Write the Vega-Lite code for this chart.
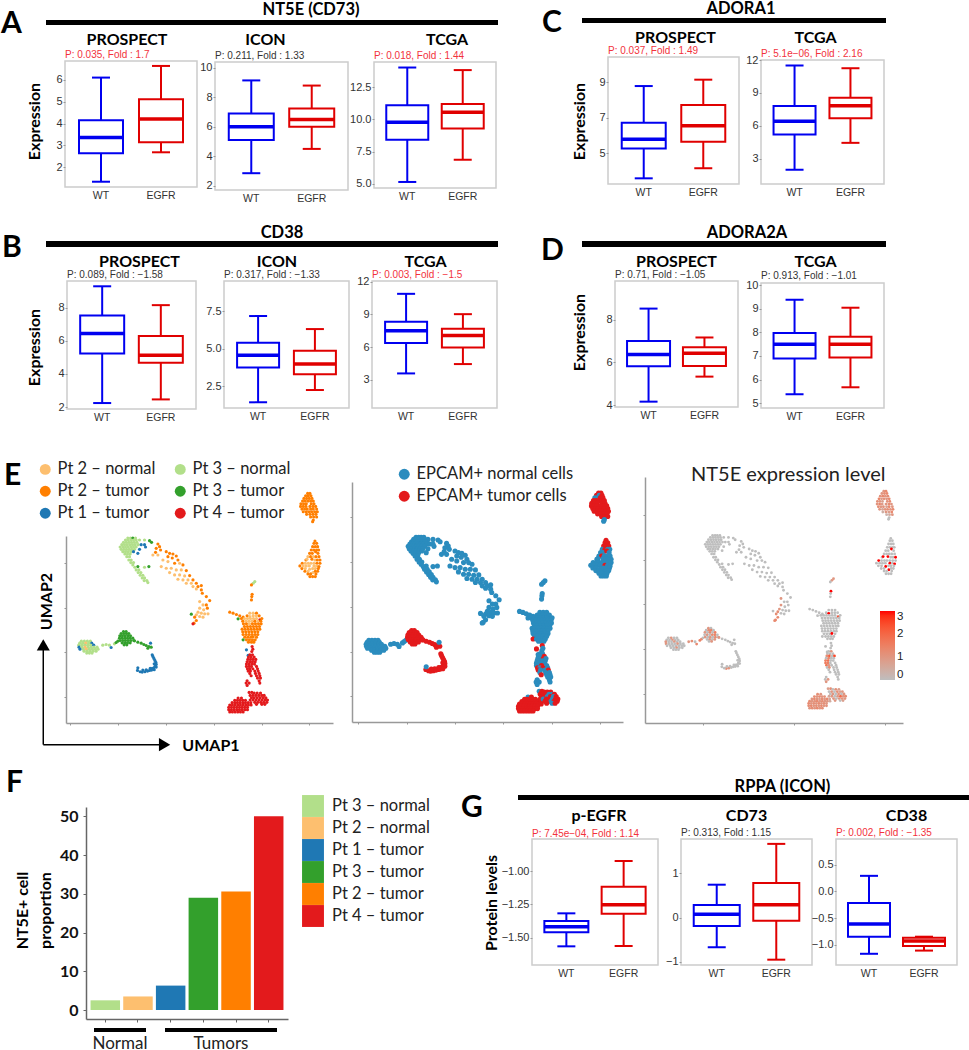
{"$schema":"https://vega.github.io/schema/vega-lite/v6.json","autosize":"none","padding":{"left":0,"top":0,"right":969,"bottom":1050},"background":"#fff","spacing":0,"bounds":"flush",
"data":{"values":[]},
"datasets":{"cells":[
{"x":92.3,"y":72,"p":"P2t","e":"T","v":1},{"x":93,"y":72,"p":"P2t","e":"T","v":1.3},{"x":91.7,"y":71.3,"p":"P2t","e":"T","v":1},{"x":92.5,"y":71.3,"p":"P2t","e":"N","v":1.2},{"x":93.3,"y":71.3,"p":"P2t","e":"T","v":1.3},{"x":91.2,"y":70.5,"p":"P2t","e":"N","v":1.1},{"x":92,"y":70.5,"p":"P2t","e":"N","v":1.3},{"x":92.8,"y":70.5,"p":"P2t","e":"T","v":1},{"x":93.6,"y":70.5,"p":"P2t","e":"T","v":1.2},{"x":90.8,"y":69.7,"p":"P2t","e":"T","v":1.4},{"x":91.6,"y":69.7,"p":"P2t","e":"T","v":0.9},{"x":92.4,"y":69.7,"p":"P2t","e":"T","v":1.1},{"x":93.2,"y":69.7,"p":"P2t","e":"T","v":1},{"x":94,"y":69.7,"p":"P2t","e":"T","v":1.3},{"x":90.3,"y":68.9,"p":"P2t","e":"T","v":1.2},{"x":91.1,"y":68.9,"p":"P2t","e":"T","v":1},{"x":91.9,"y":68.9,"p":"P2t","e":"T","v":0.8},{"x":93.4,"y":68.9,"p":"P2t","e":"T","v":1.1},{"x":94.2,"y":68.9,"p":"P2t","e":"T","v":1.3},{"x":90.2,"y":68.1,"p":"P2t","e":"T","v":1},{"x":91,"y":68.1,"p":"P2t","e":"T","v":1.4},{"x":91.8,"y":68.1,"p":"P2t","e":"T","v":0.9},{"x":93,"y":68.1,"p":"P2t","e":"T","v":1},{"x":93.9,"y":68.1,"p":"P2t","e":"T","v":1.2},{"x":94.7,"y":68.1,"p":"P2t","e":"T","v":1},{"x":90.6,"y":67.3,"p":"P2t","e":"T","v":1.2},{"x":91.4,"y":67.3,"p":"P2t","e":"T","v":1},{"x":92.2,"y":67.3,"p":"P2t","e":"T","v":1.1},{"x":93.2,"y":67.3,"p":"P2t","e":"T","v":0.7},{"x":94,"y":67.3,"p":"P2t","e":"T","v":1.3},{"x":95,"y":67.3,"p":"P2t","e":"T","v":1},{"x":91,"y":66.5,"p":"P2t","e":"T","v":1},{"x":91.9,"y":66.5,"p":"P2t","e":"T","v":0.6},{"x":92.7,"y":66.5,"p":"P2t","e":"T","v":1.1},{"x":93.5,"y":66.5,"p":"P2t","e":"T","v":1.2},{"x":94.4,"y":66.5,"p":"P2t","e":"T","v":1},{"x":95.2,"y":66.5,"p":"P2t","e":"T","v":1.3},{"x":92,"y":65.7,"p":"P2t","e":"T","v":0.4},{"x":93,"y":65.7,"p":"P2t","e":"T","v":1},{"x":93.9,"y":65.7,"p":"P2t","e":"T","v":0.8},{"x":94.8,"y":65.7,"p":"P2t","e":"T","v":1.3},{"x":93.2,"y":64.9,"p":"P2t","e":"T","v":0.3},{"x":94.1,"y":64.9,"p":"P2t","e":"T","v":0.5},{"x":95,"y":64.9,"p":"P2t","e":"T","v":1},{"x":94,"y":64,"p":"P2t","e":"N","v":0},{"x":93.8,"y":63.5,"p":"P2t","e":"N","v":0},
{"x":94.5,"y":57.7,"p":"P2t","e":"T","v":0},{"x":94.2,"y":57,"p":"P2t","e":"T","v":0},{"x":95,"y":57,"p":"P2t","e":"T","v":0},{"x":93.8,"y":56,"p":"P2t","e":"T","v":0},{"x":94.6,"y":56,"p":"P2t","e":"T","v":0},{"x":95.3,"y":56,"p":"P2t","e":"T","v":0},{"x":93.4,"y":55,"p":"P2t","e":"N","v":0},{"x":94.2,"y":55,"p":"P2t","e":"T","v":0},{"x":95,"y":55,"p":"P2t","e":"N","v":0},{"x":95.6,"y":55,"p":"P2t","e":"N","v":0},{"x":92.9,"y":54,"p":"P2t","e":"N","v":0},{"x":93.7,"y":54,"p":"P2t","e":"N","v":0},{"x":94.7,"y":54.5,"p":"P2t","e":"T","v":3},{"x":95.4,"y":54,"p":"P2t","e":"N","v":0},{"x":92.4,"y":53,"p":"P2n","e":"N","v":0},{"x":93.2,"y":53,"p":"P2t","e":"T","v":0},{"x":94,"y":53,"p":"P2n","e":"N","v":0},{"x":94.8,"y":53,"p":"P2t","e":"N","v":0},{"x":95.7,"y":53,"p":"P2t","e":"N","v":0},{"x":91.8,"y":52,"p":"P2t","e":"N","v":0},{"x":92.1,"y":52.2,"p":"P2n","e":"N","v":3},{"x":93.6,"y":52.2,"p":"P2t","e":"N","v":3},{"x":94.5,"y":52,"p":"P2n","e":"N","v":0},{"x":95.2,"y":52,"p":"P2t","e":"N","v":0},{"x":96,"y":52,"p":"P2t","e":"N","v":3},{"x":90.7,"y":51,"p":"P2t","e":"N","v":3},{"x":91.6,"y":51,"p":"P2n","e":"N","v":0},{"x":92.5,"y":51,"p":"P2n","e":"N","v":0},{"x":93.3,"y":51,"p":"P2n","e":"N","v":0},{"x":94.2,"y":51,"p":"P2n","e":"N","v":0},{"x":95.1,"y":51,"p":"P2t","e":"N","v":0},{"x":96,"y":51,"p":"P2t","e":"N","v":0},{"x":90,"y":50.2,"p":"P2t","e":"N","v":0},{"x":91,"y":50.2,"p":"P2n","e":"N","v":0},{"x":91.9,"y":50.2,"p":"P2n","e":"N","v":0},{"x":92.8,"y":50.2,"p":"P2n","e":"N","v":0},{"x":94.2,"y":50.2,"p":"P2n","e":"T","v":3},{"x":95,"y":50.2,"p":"P2n","e":"N","v":0},{"x":95.7,"y":50,"p":"P2t","e":"N","v":3},{"x":90.6,"y":49.4,"p":"P2t","e":"N","v":0},{"x":91.6,"y":49.4,"p":"P2n","e":"N","v":0},{"x":92.9,"y":49.2,"p":"P2n","e":"N","v":3},{"x":93.8,"y":49.4,"p":"P2n","e":"N","v":0},{"x":94.6,"y":49.4,"p":"P2n","e":"N","v":0},{"x":95.5,"y":49.4,"p":"P2t","e":"N","v":0},{"x":91.5,"y":48.6,"p":"P2t","e":"N","v":0},{"x":92.4,"y":48.6,"p":"P2n","e":"N","v":0},{"x":93.9,"y":48.2,"p":"P2n","e":"N","v":3},{"x":94.6,"y":48.6,"p":"P2t","e":"N","v":0},{"x":95.3,"y":48.6,"p":"P2t","e":"N","v":0},{"x":92.4,"y":47.8,"p":"P2t","e":"N","v":0},{"x":93.2,"y":47.8,"p":"P2t","e":"N","v":0},{"x":94.8,"y":47.8,"p":"P2t","e":"N","v":0},{"x":93,"y":47,"p":"P2t","e":"N","v":0},{"x":93.8,"y":47,"p":"P2t","e":"N","v":0},{"x":94.6,"y":47,"p":"P2t","e":"N","v":0},
{"x":38.5,"y":58.6,"p":"P3n","e":"N","v":0},{"x":39.3,"y":58.6,"p":"P3n","e":"N","v":0},{"x":40,"y":58.6,"p":"P3t","e":"N","v":0},{"x":40.8,"y":58.6,"p":"P3n","e":"N","v":0},{"x":37.8,"y":58,"p":"P3n","e":"N","v":0},{"x":38.6,"y":58,"p":"P3n","e":"N","v":0},{"x":39.4,"y":58,"p":"P3n","e":"N","v":0},{"x":40.2,"y":58,"p":"P3n","e":"N","v":0},{"x":41,"y":58,"p":"P3n","e":"N","v":0},{"x":42,"y":58,"p":"P3n","e":"N","v":0},{"x":43.5,"y":58,"p":"P3n","e":"N","v":0},{"x":45,"y":57.8,"p":"P3t","e":"N","v":0},{"x":37.2,"y":57.3,"p":"P3n","e":"N","v":0},{"x":38,"y":57.3,"p":"P3n","e":"N","v":0},{"x":38.8,"y":57.3,"p":"P3n","e":"N","v":0},{"x":39.6,"y":57.3,"p":"P3n","e":"N","v":0},{"x":40.4,"y":57.3,"p":"P3n","e":"N","v":0},{"x":41.2,"y":57.3,"p":"P3n","e":"N","v":0},{"x":45.6,"y":57.3,"p":"P3t","e":"N","v":0},{"x":36.7,"y":56.6,"p":"P3n","e":"N","v":0},{"x":37.5,"y":56.6,"p":"P3n","e":"N","v":0},{"x":38.3,"y":56.6,"p":"P3n","e":"N","v":0},{"x":39.1,"y":56.6,"p":"P3n","e":"N","v":0},{"x":39.9,"y":56.6,"p":"P3n","e":"N","v":0},{"x":40.7,"y":56.6,"p":"P3n","e":"N","v":0},{"x":41.6,"y":56.6,"p":"P3n","e":"N","v":0},{"x":42.5,"y":56.6,"p":"P1t","e":"N","v":0},{"x":43.5,"y":56.6,"p":"P1t","e":"N","v":0},{"x":36.2,"y":55.9,"p":"P3n","e":"N","v":0},{"x":37,"y":55.9,"p":"P3n","e":"N","v":0},{"x":37.8,"y":55.9,"p":"P3n","e":"N","v":0},{"x":38.6,"y":55.9,"p":"P3n","e":"N","v":0},{"x":39.4,"y":55.9,"p":"P3n","e":"N","v":0},{"x":40.2,"y":55.9,"p":"P3n","e":"N","v":0},{"x":41,"y":55.9,"p":"P3n","e":"N","v":0},{"x":43.8,"y":55.9,"p":"P1t","e":"N","v":0},{"x":36.5,"y":55.2,"p":"P3n","e":"N","v":0},{"x":37.3,"y":55.2,"p":"P3n","e":"N","v":0},{"x":38.1,"y":55.2,"p":"P3n","e":"N","v":0},{"x":38.9,"y":55.2,"p":"P3n","e":"N","v":0},{"x":39.7,"y":55.2,"p":"P3n","e":"N","v":0},{"x":40.5,"y":55.2,"p":"P3n","e":"N","v":0},{"x":42,"y":55.2,"p":"P1t","e":"N","v":0},{"x":37,"y":54.5,"p":"P3n","e":"N","v":0},{"x":37.8,"y":54.5,"p":"P3n","e":"N","v":0},{"x":38.6,"y":54.5,"p":"P3n","e":"N","v":0},{"x":39.4,"y":54.5,"p":"P3n","e":"N","v":0},{"x":40.2,"y":54.5,"p":"P1t","e":"N","v":0},{"x":41.5,"y":54,"p":"P1t","e":"N","v":0},{"x":37.6,"y":53.8,"p":"P3n","e":"N","v":0},{"x":38.4,"y":53.8,"p":"P3n","e":"N","v":0},{"x":39.2,"y":53.8,"p":"P3n","e":"N","v":0},{"x":38.2,"y":53,"p":"P3n","e":"N","v":0},{"x":39,"y":53,"p":"P3n","e":"N","v":0},{"x":38.8,"y":52,"p":"P3n","e":"N","v":0},{"x":39.5,"y":52,"p":"P3n","e":"N","v":0},{"x":39.4,"y":51.2,"p":"P3n","e":"N","v":0},{"x":40.2,"y":51.2,"p":"P3n","e":"N","v":0},{"x":40,"y":50.5,"p":"P3n","e":"N","v":0},{"x":41.5,"y":50,"p":"P3t","e":"N","v":0},{"x":44.8,"y":50,"p":"P3t","e":"N","v":0},{"x":40.6,"y":49.8,"p":"P3n","e":"N","v":0},{"x":43.5,"y":49.8,"p":"P3n","e":"N","v":0},{"x":41,"y":49,"p":"P3n","e":"N","v":0},{"x":41.8,"y":49,"p":"P3n","e":"N","v":0},{"x":41.6,"y":48.2,"p":"P3n","e":"N","v":0},{"x":42.4,"y":48.2,"p":"P3n","e":"N","v":0},{"x":42.2,"y":47.4,"p":"P3n","e":"N","v":0},{"x":43,"y":47.4,"p":"P3n","e":"N","v":0},{"x":42.8,"y":46.6,"p":"P3n","e":"N","v":0},{"x":43.5,"y":46.6,"p":"P3n","e":"N","v":0},{"x":43.4,"y":45.8,"p":"P3n","e":"N","v":0},{"x":44.2,"y":45.8,"p":"P3n","e":"N","v":0},{"x":44.5,"y":45.2,"p":"P3n","e":"N","v":0},
{"x":47.5,"y":56.8,"p":"P2t","e":"N","v":0},{"x":48,"y":56,"p":"P2t","e":"N","v":0},{"x":47,"y":55.5,"p":"P2t","e":"N","v":0},{"x":48.3,"y":55,"p":"P2t","e":"N","v":0},{"x":46.8,"y":54.3,"p":"P2t","e":"N","v":0},{"x":46,"y":53.5,"p":"P2n","e":"N","v":0},{"x":47.5,"y":53.5,"p":"P2n","e":"N","v":0},{"x":50,"y":54.5,"p":"P2t","e":"N","v":0},{"x":51,"y":54,"p":"P2t","e":"N","v":0},{"x":52,"y":53.8,"p":"P2t","e":"N","v":0},{"x":53,"y":53.2,"p":"P2t","e":"N","v":0},{"x":50.5,"y":53,"p":"P2t","e":"N","v":0},{"x":51.8,"y":52.6,"p":"P2t","e":"N","v":0},{"x":53.5,"y":52,"p":"P2t","e":"N","v":0},{"x":49,"y":52,"p":"P2n","e":"N","v":0},{"x":50.5,"y":51.5,"p":"P2n","e":"N","v":0},{"x":52.5,"y":51,"p":"P2t","e":"N","v":0},{"x":54,"y":51,"p":"P2n","e":"N","v":0},{"x":55,"y":50.5,"p":"P2t","e":"N","v":0},{"x":48.5,"y":50,"p":"P2n","e":"N","v":0},{"x":50,"y":49.5,"p":"P2n","e":"N","v":0},{"x":51.5,"y":49.5,"p":"P2n","e":"N","v":0},{"x":53,"y":49,"p":"P2n","e":"N","v":0},{"x":54.5,"y":49,"p":"P2n","e":"N","v":0},{"x":56,"y":48.8,"p":"P2t","e":"N","v":0},{"x":51,"y":48.2,"p":"P2n","e":"N","v":0},{"x":52.5,"y":47.5,"p":"P2n","e":"N","v":0},{"x":54,"y":47.5,"p":"P2n","e":"N","v":0},{"x":55.5,"y":47.2,"p":"P2n","e":"N","v":0},{"x":57,"y":47.3,"p":"P2t","e":"N","v":0},{"x":53.5,"y":46.2,"p":"P2n","e":"N","v":0},{"x":55,"y":46,"p":"P2n","e":"N","v":0},{"x":56.5,"y":46,"p":"P2n","e":"N","v":0},{"x":58,"y":46,"p":"P2t","e":"N","v":0},{"x":56,"y":45,"p":"P2n","e":"N","v":0},{"x":57.5,"y":45,"p":"P2n","e":"N","v":0},{"x":59,"y":45,"p":"P2t","e":"N","v":0},{"x":58,"y":44,"p":"P2n","e":"N","v":0},{"x":59.5,"y":44,"p":"P2t","e":"N","v":0},{"x":60.5,"y":44.3,"p":"P2t","e":"N","v":0},{"x":59,"y":43.3,"p":"P2n","e":"N","v":0},{"x":60.5,"y":43,"p":"P2t","e":"N","v":0},{"x":60.8,"y":42,"p":"P2t","e":"N","v":0},{"x":62,"y":41,"p":"P2t","e":"N","v":0},{"x":63,"y":39.8,"p":"P2t","e":"N","v":0},{"x":62,"y":38.5,"p":"P2t","e":"N","v":0},{"x":60,"y":39.5,"p":"P2n","e":"N","v":1},{"x":61,"y":38.5,"p":"P2n","e":"N","v":0},{"x":60,"y":37.5,"p":"P2n","e":"N","v":1},{"x":61.2,"y":37,"p":"P2n","e":"N","v":0},{"x":62.3,"y":37.5,"p":"P2t","e":"N","v":0},{"x":60.5,"y":36,"p":"P2n","e":"N","v":0},{"x":61.5,"y":35.8,"p":"P2n","e":"N","v":0},{"x":62.5,"y":35.8,"p":"P2n","e":"N","v":0},{"x":59.5,"y":36.3,"p":"P2n","e":"N","v":1},{"x":59,"y":35.5,"p":"P2n","e":"N","v":1.2},{"x":60,"y":35,"p":"P2n","e":"N","v":0},{"x":61,"y":34.8,"p":"P2n","e":"N","v":0},{"x":58.5,"y":34.8,"p":"P2t","e":"N","v":1.2},{"x":59,"y":33.8,"p":"P2t","e":"N","v":1.3},{"x":58.3,"y":33,"p":"P2t","e":"N","v":1.4},{"x":57.5,"y":35.7,"p":"P3t","e":"N","v":0},{"x":58,"y":32.8,"p":"P4t","e":"N","v":1.3},
{"x":24.6,"y":27.6,"p":"P3n","e":"N","v":0},{"x":25.5,"y":27.6,"p":"P3n","e":"N","v":1},{"x":26.4,"y":27.6,"p":"P3n","e":"N","v":0},{"x":27.3,"y":27.6,"p":"P3n","e":"N","v":0},{"x":24.1,"y":27,"p":"P3n","e":"N","v":0},{"x":25,"y":27,"p":"P3n","e":"N","v":0},{"x":25.9,"y":27,"p":"P2n","e":"N","v":1},{"x":26.8,"y":27,"p":"P3n","e":"N","v":0},{"x":27.7,"y":27,"p":"P1t","e":"N","v":0},{"x":23.8,"y":26.4,"p":"P3n","e":"N","v":1},{"x":24.7,"y":26.4,"p":"P3n","e":"N","v":0},{"x":25.6,"y":26.4,"p":"P3n","e":"N","v":0},{"x":26.5,"y":26.4,"p":"P3n","e":"N","v":1},{"x":27.4,"y":26.4,"p":"P3n","e":"N","v":0},{"x":28.3,"y":26.4,"p":"P1t","e":"N","v":0},{"x":23.9,"y":25.8,"p":"P1t","e":"N","v":1},{"x":24.8,"y":25.8,"p":"P3n","e":"N","v":0},{"x":25.7,"y":25.8,"p":"P2n","e":"N","v":0},{"x":26.6,"y":25.8,"p":"P3n","e":"N","v":0},{"x":27.5,"y":25.8,"p":"P3n","e":"N","v":1},{"x":28.4,"y":25.8,"p":"P3n","e":"N","v":0},{"x":29.3,"y":25.8,"p":"P3n","e":"N","v":0},{"x":24.2,"y":25.2,"p":"P1t","e":"N","v":0},{"x":25.2,"y":25.2,"p":"P3n","e":"N","v":0},{"x":26.1,"y":25.2,"p":"P2n","e":"N","v":0},{"x":27,"y":25.2,"p":"P3n","e":"N","v":0},{"x":27.9,"y":25.2,"p":"P3n","e":"N","v":0},{"x":28.8,"y":25.2,"p":"P3n","e":"N","v":0},{"x":29.6,"y":25.2,"p":"P3n","e":"N","v":0},{"x":25.4,"y":24.6,"p":"P3n","e":"N","v":0},{"x":26.3,"y":24.6,"p":"P3n","e":"N","v":0},{"x":27.2,"y":24.6,"p":"P3n","e":"N","v":1},{"x":28.1,"y":24.6,"p":"P3n","e":"N","v":0},{"x":29,"y":24.6,"p":"P3n","e":"N","v":0},{"x":26.2,"y":24,"p":"P3n","e":"N","v":0},{"x":27,"y":24,"p":"P3n","e":"N","v":0},{"x":27.8,"y":24,"p":"P3n","e":"N","v":0},{"x":31,"y":26.4,"p":"P3n","e":"N","v":1},{"x":32,"y":26.6,"p":"P3n","e":"N","v":1.2},{"x":33,"y":26.4,"p":"P3n","e":"N","v":0},{"x":33.5,"y":25.7,"p":"P1t","e":"N","v":1.3},{"x":34.5,"y":26.8,"p":"P3n","e":"N","v":1.5},{"x":35,"y":27.2,"p":"P3t","e":"N","v":1.2},{"x":35.5,"y":27.6,"p":"P3t","e":"N","v":0},
{"x":37.2,"y":30.5,"p":"P3t","e":"T","v":1},{"x":38,"y":30.5,"p":"P3t","e":"T","v":0},{"x":36.5,"y":29.9,"p":"P3t","e":"T","v":0},{"x":37.3,"y":29.9,"p":"P3t","e":"T","v":1.2},{"x":38.1,"y":29.9,"p":"P3t","e":"T","v":1.4},{"x":38.8,"y":29.9,"p":"P3t","e":"T","v":0},{"x":36.1,"y":29.2,"p":"P3t","e":"T","v":1},{"x":36.9,"y":29.2,"p":"P3t","e":"T","v":0},{"x":37.7,"y":29.2,"p":"P3t","e":"T","v":1.3},{"x":38.5,"y":29.2,"p":"P3t","e":"T","v":0},{"x":39.3,"y":29.2,"p":"P3t","e":"T","v":1.5},{"x":36,"y":28.5,"p":"P3t","e":"T","v":0},{"x":36.8,"y":28.5,"p":"P3t","e":"T","v":1},{"x":37.6,"y":28.5,"p":"P3t","e":"T","v":0},{"x":38.4,"y":28.5,"p":"P3t","e":"T","v":1.2},{"x":39.2,"y":28.5,"p":"P3t","e":"T","v":1.4},{"x":40,"y":28.5,"p":"P3t","e":"T","v":0},{"x":36.2,"y":27.8,"p":"P3t","e":"T","v":1},{"x":37,"y":27.8,"p":"P3t","e":"T","v":0},{"x":37.8,"y":27.8,"p":"P3t","e":"T","v":1},{"x":38.6,"y":27.8,"p":"P3t","e":"T","v":0},{"x":39.4,"y":27.8,"p":"P3t","e":"T","v":1.2},{"x":40.3,"y":27.8,"p":"P3t","e":"T","v":0},{"x":36.8,"y":27.1,"p":"P3t","e":"T","v":0},{"x":37.6,"y":27.1,"p":"P3t","e":"T","v":1},{"x":38.4,"y":27.1,"p":"P3t","e":"T","v":0},{"x":39.2,"y":27.1,"p":"P3t","e":"T","v":1},{"x":37.4,"y":26.5,"p":"P3t","e":"T","v":0},{"x":38.2,"y":26.5,"p":"P3t","e":"T","v":1},{"x":40.5,"y":27.7,"p":"P3t","e":"T","v":1},{"x":41.5,"y":27.3,"p":"P3t","e":"T","v":0},{"x":42.5,"y":27,"p":"P3t","e":"T","v":0},{"x":43.3,"y":26.6,"p":"P3t","e":"T","v":0},{"x":44,"y":26.3,"p":"P3t","e":"T","v":0},{"x":44.8,"y":26,"p":"P3t","e":"T","v":0},{"x":45.5,"y":25.8,"p":"P3t","e":"T","v":0},{"x":45.3,"y":27,"p":"P1t","e":"N","v":0},{"x":44.5,"y":25.5,"p":"P3t","e":"T","v":0},
{"x":45.8,"y":23.5,"p":"P1t","e":"T","v":0},{"x":46,"y":23,"p":"P1t","e":"T","v":0},{"x":46.3,"y":22.4,"p":"P1t","e":"T","v":0},{"x":46.6,"y":21.8,"p":"P1t","e":"T","v":0},{"x":46.9,"y":21.2,"p":"P1t","e":"T","v":0},{"x":47,"y":20.6,"p":"P1t","e":"T","v":0},{"x":46.4,"y":20.8,"p":"P1t","e":"T","v":0},{"x":46.6,"y":20,"p":"P1t","e":"T","v":0},{"x":47,"y":19.8,"p":"P1t","e":"T","v":0},{"x":46.3,"y":19.5,"p":"P1t","e":"T","v":0},{"x":45.8,"y":19.4,"p":"P1t","e":"T","v":0},{"x":46.4,"y":19,"p":"P1t","e":"T","v":0},{"x":45.6,"y":18.9,"p":"P1t","e":"T","v":0},{"x":45,"y":18.8,"p":"P1t","e":"T","v":0},{"x":45.2,"y":19.4,"p":"P1t","e":"T","v":0},{"x":44.4,"y":18.6,"p":"P1t","e":"T","v":0},{"x":43.6,"y":18.4,"p":"P1t","e":"T","v":1},{"x":44,"y":19,"p":"P1t","e":"T","v":0},{"x":42.8,"y":18.3,"p":"P1t","e":"T","v":1.2},{"x":43,"y":18.9,"p":"P1t","e":"T","v":0},{"x":42.2,"y":18.4,"p":"P1t","e":"T","v":0},{"x":41.4,"y":18.8,"p":"P1t","e":"T","v":0},{"x":41.5,"y":19.6,"p":"P1t","e":"N","v":0},
{"x":76.5,"y":45.5,"p":"P3n","e":"N","v":1},{"x":76,"y":45,"p":"P3n","e":"N","v":1},{"x":75.5,"y":44.5,"p":"P2t","e":"N","v":0},{"x":75.7,"y":41.7,"p":"P2t","e":"N","v":3},{"x":75.6,"y":41,"p":"P2t","e":"N","v":0},{"x":75.5,"y":40,"p":"P2t","e":"N","v":0},{"x":69,"y":36.3,"p":"P2t","e":"N","v":0},{"x":70,"y":36,"p":"P2t","e":"N","v":0},{"x":71,"y":35.6,"p":"P2t","e":"N","v":0},{"x":72,"y":35.2,"p":"P2t","e":"N","v":0},{"x":75,"y":36,"p":"P2n","e":"N","v":0},{"x":76,"y":36,"p":"P2n","e":"N","v":0},{"x":77,"y":36,"p":"P2t","e":"N","v":0},{"x":73,"y":34.8,"p":"P2t","e":"N","v":0},{"x":74.2,"y":35.2,"p":"P2t","e":"N","v":0},{"x":75,"y":35,"p":"P2n","e":"N","v":3},{"x":76,"y":35.2,"p":"P2n","e":"N","v":0},{"x":76.9,"y":35.2,"p":"P2n","e":"N","v":0},{"x":77.8,"y":35.2,"p":"P2t","e":"N","v":0},{"x":71.5,"y":34.3,"p":"P3t","e":"N","v":0},{"x":72.5,"y":34.4,"p":"P2t","e":"N","v":0},{"x":73.4,"y":34.4,"p":"P2n","e":"N","v":0},{"x":74.3,"y":34.4,"p":"P2n","e":"N","v":0},{"x":75.2,"y":34.4,"p":"P2n","e":"N","v":0},{"x":76.1,"y":34.4,"p":"P2n","e":"N","v":0},{"x":77,"y":34.4,"p":"P2n","e":"N","v":0},{"x":78,"y":34,"p":"P4t","e":"N","v":2.5},{"x":78.6,"y":34.4,"p":"P2t","e":"N","v":0},{"x":72.9,"y":33.6,"p":"P2t","e":"N","v":0},{"x":73.8,"y":33.6,"p":"P2n","e":"N","v":0},{"x":74.7,"y":33.6,"p":"P2n","e":"N","v":0},{"x":75.6,"y":33.6,"p":"P2n","e":"N","v":0},{"x":76.5,"y":33.6,"p":"P2t","e":"N","v":0},{"x":77.4,"y":33.6,"p":"P2n","e":"N","v":0},{"x":78.3,"y":33.6,"p":"P2t","e":"N","v":0},{"x":73.1,"y":32.8,"p":"P2t","e":"N","v":0},{"x":74,"y":32.8,"p":"P2t","e":"N","v":0},{"x":74.9,"y":32.8,"p":"P2n","e":"N","v":0},{"x":75.8,"y":32.8,"p":"P2t","e":"N","v":0},{"x":76.7,"y":32.8,"p":"P2t","e":"N","v":0},{"x":77.6,"y":32.8,"p":"P2t","e":"N","v":0},{"x":78.4,"y":32.8,"p":"P2t","e":"N","v":0},{"x":73.4,"y":32,"p":"P2t","e":"N","v":0},{"x":74.3,"y":32,"p":"P2t","e":"N","v":0},{"x":75.2,"y":32,"p":"P2t","e":"N","v":0},{"x":76.1,"y":32,"p":"P2t","e":"N","v":0},{"x":77,"y":32,"p":"P2t","e":"N","v":0},{"x":77.9,"y":32,"p":"P2t","e":"N","v":0},{"x":72.7,"y":31.2,"p":"P2t","e":"N","v":0},{"x":73.6,"y":31.2,"p":"P2t","e":"N","v":0},{"x":74.5,"y":31.2,"p":"P2t","e":"N","v":0},{"x":75.4,"y":31.2,"p":"P2t","e":"N","v":0},{"x":76.3,"y":31.2,"p":"P2t","e":"N","v":0},{"x":77.2,"y":31.2,"p":"P2t","e":"N","v":0},{"x":78,"y":31.2,"p":"P2t","e":"N","v":0},{"x":72.9,"y":30.4,"p":"P2t","e":"N","v":0},{"x":73.8,"y":30.4,"p":"P2t","e":"N","v":0},{"x":74.7,"y":30.4,"p":"P2t","e":"N","v":0},{"x":75.6,"y":30.4,"p":"P2t","e":"N","v":0},{"x":76.5,"y":30.4,"p":"P2t","e":"N","v":0},{"x":77.4,"y":30.4,"p":"P2t","e":"N","v":0},{"x":73,"y":29.6,"p":"P2t","e":"N","v":0},{"x":73.9,"y":29.6,"p":"P2t","e":"N","v":0},{"x":74.8,"y":29.6,"p":"P2t","e":"N","v":0},{"x":75.7,"y":29.6,"p":"P2t","e":"N","v":0},{"x":76.6,"y":29.6,"p":"P2t","e":"N","v":0},{"x":77.4,"y":29.6,"p":"P2t","e":"N","v":0},{"x":73.5,"y":28.8,"p":"P2t","e":"N","v":0},{"x":74.4,"y":28.8,"p":"P2t","e":"N","v":0},{"x":75.3,"y":28.8,"p":"P2t","e":"N","v":0},{"x":76,"y":28.9,"p":"P2t","e":"N","v":3},{"x":77,"y":28.8,"p":"P2t","e":"N","v":0},{"x":73,"y":28,"p":"P3t","e":"T","v":0},{"x":74,"y":28,"p":"P2t","e":"N","v":0},{"x":74.9,"y":28,"p":"P2t","e":"N","v":0},{"x":75.8,"y":28,"p":"P2t","e":"N","v":0},{"x":76.6,"y":28,"p":"P2t","e":"N","v":0},{"x":74.6,"y":27.3,"p":"P2t","e":"N","v":0},{"x":75.5,"y":27.3,"p":"P2t","e":"N","v":0},{"x":76.2,"y":27.3,"p":"P2t","e":"N","v":0},
{"x":75.7,"y":26,"p":"P4t","e":"T","v":0},{"x":75.9,"y":25.2,"p":"P4t","e":"N","v":0},{"x":75.6,"y":24.5,"p":"P4t","e":"N","v":0},{"x":74,"y":25,"p":"P1t","e":"T","v":0},{"x":74.5,"y":23.3,"p":"P1t","e":"N","v":0},{"x":75,"y":23.5,"p":"P4t","e":"N","v":0},{"x":75.8,"y":23.5,"p":"P4t","e":"N","v":1},{"x":74.6,"y":22.8,"p":"P4t","e":"N","v":0},{"x":75.4,"y":22.8,"p":"P4t","e":"N","v":0},{"x":76.3,"y":22.8,"p":"P4t","e":"T","v":0},{"x":74.4,"y":22.1,"p":"P4t","e":"N","v":1.2},{"x":75.2,"y":22.1,"p":"P4t","e":"N","v":2.2},{"x":76,"y":22.1,"p":"P4t","e":"T","v":0},{"x":76.8,"y":22.1,"p":"P4t","e":"N","v":2.5},{"x":74.2,"y":21.4,"p":"P4t","e":"N","v":0},{"x":75,"y":21.4,"p":"P4t","e":"N","v":1.3},{"x":75.8,"y":21.4,"p":"P4t","e":"N","v":0},{"x":76.6,"y":21.4,"p":"P4t","e":"N","v":0},{"x":74,"y":20.7,"p":"P4t","e":"N","v":1.5},{"x":74.8,"y":20.7,"p":"P4t","e":"N","v":1.8},{"x":75.6,"y":20.7,"p":"P4t","e":"N","v":0},{"x":76.4,"y":20.7,"p":"P4t","e":"N","v":0},{"x":74,"y":20,"p":"P4t","e":"N","v":1.6},{"x":74.8,"y":20,"p":"P4t","e":"N","v":1.5},{"x":75.5,"y":20,"p":"P4t","e":"T","v":0},{"x":77,"y":20,"p":"P4t","e":"N","v":0},{"x":74.3,"y":19.3,"p":"P4t","e":"T","v":1.7},{"x":75,"y":19.3,"p":"P4t","e":"N","v":1},{"x":75.9,"y":19.3,"p":"P4t","e":"T","v":0},{"x":77.3,"y":19.3,"p":"P4t","e":"N","v":0},{"x":74.5,"y":18.6,"p":"P4t","e":"T","v":0},{"x":75.2,"y":18.6,"p":"P4t","e":"N","v":1.2},{"x":76.5,"y":18.6,"p":"P4t","e":"N","v":0},{"x":77.5,"y":18.6,"p":"P4t","e":"T","v":0},{"x":75,"y":17.9,"p":"P4t","e":"N","v":0},{"x":76.7,"y":17.9,"p":"P4t","e":"N","v":0},{"x":77.8,"y":17.9,"p":"P4t","e":"N","v":0},{"x":75.4,"y":17.2,"p":"P4t","e":"T","v":0},{"x":77,"y":17.2,"p":"P4t","e":"N","v":0},{"x":78,"y":17.2,"p":"P4t","e":"N","v":0},{"x":77.3,"y":16.5,"p":"P4t","e":"N","v":0},{"x":78.2,"y":16.5,"p":"P4t","e":"N","v":0},{"x":74.2,"y":15.7,"p":"P4t","e":"N","v":0},{"x":77.8,"y":15.7,"p":"P4t","e":"N","v":0},{"x":73.9,"y":15,"p":"P4t","e":"N","v":0},{"x":74.8,"y":15,"p":"P4t","e":"N","v":1},{"x":78,"y":15,"p":"P4t","e":"N","v":0},{"x":74.2,"y":14.3,"p":"P4t","e":"N","v":1},
{"x":71.5,"y":10.5,"p":"P4t","e":"N","v":1.2},{"x":72.5,"y":10.5,"p":"P4t","e":"T","v":1},{"x":70.5,"y":9.8,"p":"P4t","e":"T","v":1.2},{"x":71.3,"y":9.8,"p":"P4t","e":"T","v":1},{"x":72.1,"y":9.8,"p":"P4t","e":"T","v":1.3},{"x":72.9,"y":9.8,"p":"P4t","e":"T","v":1},{"x":73.7,"y":9.8,"p":"P4t","e":"T","v":1.1},{"x":69.7,"y":9.1,"p":"P4t","e":"T","v":1},{"x":70.5,"y":9.1,"p":"P4t","e":"T","v":1.3},{"x":71.3,"y":9.1,"p":"P4t","e":"T","v":1},{"x":72.1,"y":9.1,"p":"P4t","e":"T","v":0.8},{"x":72.9,"y":9.1,"p":"P4t","e":"T","v":1.2},{"x":73.7,"y":9.1,"p":"P4t","e":"T","v":1},{"x":74.5,"y":9.1,"p":"P4t","e":"T","v":1.3},{"x":75.3,"y":9.1,"p":"P4t","e":"T","v":0.6},{"x":69,"y":8.4,"p":"P4t","e":"T","v":1.2},{"x":69.8,"y":8.4,"p":"P4t","e":"T","v":1},{"x":70.6,"y":8.4,"p":"P4t","e":"T","v":1.1},{"x":71.4,"y":8.4,"p":"P4t","e":"T","v":1.3},{"x":72.2,"y":8.4,"p":"P4t","e":"T","v":0.9},{"x":73,"y":8.4,"p":"P4t","e":"T","v":1.2},{"x":73.8,"y":8.4,"p":"P4t","e":"T","v":1},{"x":74.6,"y":8.4,"p":"P4t","e":"T","v":1},{"x":75.4,"y":8.4,"p":"P4t","e":"T","v":0.5},{"x":68.7,"y":7.7,"p":"P4t","e":"T","v":1.3},{"x":69.5,"y":7.7,"p":"P4t","e":"T","v":1},{"x":70.3,"y":7.7,"p":"P4t","e":"T","v":1.2},{"x":71.1,"y":7.7,"p":"P4t","e":"T","v":1},{"x":71.9,"y":7.7,"p":"P4t","e":"T","v":1.3},{"x":72.7,"y":7.7,"p":"P4t","e":"T","v":1},{"x":73.5,"y":7.7,"p":"P4t","e":"T","v":1.2},{"x":74.3,"y":7.7,"p":"P4t","e":"T","v":1},{"x":68.7,"y":7,"p":"P4t","e":"T","v":1.2},{"x":69.5,"y":7,"p":"P4t","e":"T","v":1.3},{"x":70.3,"y":7,"p":"P4t","e":"T","v":1},{"x":71.1,"y":7,"p":"P4t","e":"T","v":1.2},{"x":71.9,"y":7,"p":"P4t","e":"T","v":1},{"x":72.7,"y":7,"p":"P4t","e":"T","v":1.3},{"x":73.5,"y":7,"p":"P4t","e":"T","v":1},{"x":74.3,"y":7,"p":"P4t","e":"T","v":1.1},{"x":69,"y":6.3,"p":"P4t","e":"T","v":1},{"x":69.8,"y":6.3,"p":"P4t","e":"T","v":1.2},{"x":70.6,"y":6.3,"p":"P4t","e":"T","v":1},{"x":71.4,"y":6.3,"p":"P4t","e":"T","v":1.3},{"x":72.2,"y":6.3,"p":"P4t","e":"T","v":1},{"x":73,"y":6.3,"p":"P4t","e":"T","v":1.2},
{"x":74.8,"y":12.2,"p":"P4t","e":"N","v":0.8},{"x":75.6,"y":12.2,"p":"P4t","e":"T","v":1.2},{"x":76.3,"y":12,"p":"P4t","e":"T","v":0},{"x":77.2,"y":12,"p":"P4t","e":"T","v":1.1},{"x":78.2,"y":12,"p":"P4t","e":"T","v":0.8},{"x":75.1,"y":11.3,"p":"P4t","e":"T","v":0},{"x":75.9,"y":11.3,"p":"P4t","e":"T","v":1},{"x":76.8,"y":11.3,"p":"P4t","e":"T","v":0},{"x":77.7,"y":11.3,"p":"P4t","e":"N","v":1.2},{"x":78.6,"y":11.3,"p":"P4t","e":"N","v":0.7},{"x":79.3,"y":11.3,"p":"P4t","e":"T","v":1},{"x":75.5,"y":10.6,"p":"P4t","e":"T","v":0},{"x":76.3,"y":10.6,"p":"P4t","e":"T","v":1},{"x":77.2,"y":10.6,"p":"P4t","e":"N","v":0},{"x":78.1,"y":10.6,"p":"P4t","e":"T","v":1.1},{"x":79,"y":10.6,"p":"P4t","e":"N","v":0},{"x":79.8,"y":10.6,"p":"P4t","e":"T","v":1},{"x":75.1,"y":9.9,"p":"P4t","e":"T","v":0.6},{"x":76,"y":9.9,"p":"P4t","e":"N","v":1},{"x":76.9,"y":9.9,"p":"P4t","e":"T","v":0},{"x":77.8,"y":9.9,"p":"P4t","e":"T","v":0.9},{"x":78.7,"y":9.9,"p":"P4t","e":"N","v":2},{"x":79.6,"y":9.9,"p":"P4t","e":"T","v":1},{"x":80.3,"y":9.9,"p":"P4t","e":"T","v":1.2},{"x":76.5,"y":9.2,"p":"P4t","e":"T","v":1},{"x":77.4,"y":9.2,"p":"P4t","e":"T","v":0},{"x":78.3,"y":9.2,"p":"P4t","e":"N","v":1},{"x":79.2,"y":9.2,"p":"P4t","e":"T","v":1.1},{"x":80.1,"y":9.2,"p":"P4t","e":"T","v":1},{"x":77,"y":8.6,"p":"P4t","e":"T","v":1},{"x":78.6,"y":8.6,"p":"P4t","e":"N","v":0},{"x":79.5,"y":8.6,"p":"P4t","e":"T","v":0.8}
]},
"config":{"view":{"stroke":null},"title":{"font":"Lato","fontWeight":"bold","fontSize":16,"color":"#000","baseline":"alphabetic","anchor":"middle"},
"axis":{"grid":false,"titleFont":"Lato","titleFontWeight":"bold","titleFontSize":16,"titleColor":"#000","titleBaseline":"alphabetic"},
"axisX":{"domain":false,"ticks":false,"labelAngle":0,"labelFont":"Liberation Sans","labelFontSize":10.5,"labelColor":"#333","labelPadding":3},
"axisY":{"domain":false,"tickSize":2,"tickColor":"#999","labelFont":"Liberation Sans","labelFontSize":11,"labelColor":"#333","labelPadding":1},
"tick":{"size":18,"bandSize":18,"thickness":2,"opacity":1},"rule":{"strokeWidth":2}},
"vconcat":[
{"width":1,"height":18,"mark":"point"},
{"hconcat":[{"width":582,"height":1,"mark":"point","title":{"text":"C","anchor":"start","dx":542,"offset":-19.6,"fontSize":30}},{"width":304,"height":5,"mark":"point","view":{"fill":"#000"},"title":{"text":"ADORA1","dx":7,"offset":0.8,"fontSize":16.5}}],"spacing":0,"bounds":"flush"},
{"width":1,"height":2,"mark":"point"},
{"hconcat":[{"width":46,"height":1,"mark":"point","title":{"text":"A","anchor":"start","dx":1,"offset":-18.6,"fontSize":30}},{"width":452,"height":5,"mark":"point","view":{"fill":"#000"},"title":{"text":"NT5E (CD73)","dx":39,"offset":1.8,"fontSize":16.5}}],"spacing":0,"bounds":"flush"},
{"width":1,"height":10,"mark":"point"},
{"hconcat":[{"width":65,"height":1,"mark":"point"},{"width":132,"height":1,"mark":"point","title":{"text":"PROSPECT","dx":-4,"offset":-18}},{"width":18,"height":1,"mark":"point"},{"width":133,"height":1,"mark":"point","title":{"text":"ICON","dx":-16,"offset":-18}},{"width":26,"height":1,"mark":"point"},{"width":122,"height":1,"mark":"point","title":{"text":"TCGA","dx":12,"offset":-18}},{"width":112,"height":1,"mark":"point"},{"width":131,"height":1,"mark":"point","title":{"text":"PROSPECT","dx":2,"offset":-16}},{"width":22,"height":1,"mark":"point"},{"width":123,"height":1,"mark":"point","title":{"text":"TCGA","dx":-7,"offset":-16}}],"spacing":0,"bounds":"flush"},
{"width":1,"height":27,"mark":"point"},
{"hconcat":[{"width":608,"height":1,"mark":"point"},
{"width":131,"height":127,"view":{"stroke":"#ccc","strokeWidth":1.5},"title":{"text":"P: 0.037, Fold : 1.49","font":"Liberation Sans","fontSize":10,"fontWeight":"normal","color":"#f2323c","anchor":"start","frame":"group","offset":1.5},"data":{"values":[{"g":"WT","lo":3.58,"q1":5.26,"m":5.79,"q3":6.72,"hi":8.79},{"g":"EGFR","lo":4.15,"q1":5.64,"m":6.55,"q3":7.72,"hi":9.15}]},"encoding":{"x":{"field":"g","type":"nominal","sort":null,"title":null,"scale":{"paddingInner":0,"paddingOuter":0.1}},"color":{"field":"g","type":"nominal","scale":{"domain":["WT","EGFR"],"range":["#0000f0","#e00000"]},"legend":null},"y":{"field":"lo","type":"quantitative","scale":{"domain":[3.26,10.43],"nice":false,"zero":false},"axis":{"values":[5,7,9],"title":"Expression","titleX":-24,"titleY":64}}},"layer":[{"mark":"rule","encoding":{"y2":{"field":"hi"}}},{"mark":"tick"},{"mark":"tick","encoding":{"y":{"field":"hi","type":"quantitative"}}},{"mark":{"type":"bar","strokeWidth":2,"size":44},"encoding":{"color":{"value":"#fff"},"y":{"field":"q1","type":"quantitative"},"y2":{"field":"q3"},"stroke":{"field":"g","type":"nominal","scale":{"domain":["WT","EGFR"],"range":["#0000f0","#e00000"]},"legend":null}}},{"mark":{"type":"tick","size":44,"thickness":3.5},"encoding":{"y":{"field":"m","type":"quantitative"}}}]}],"spacing":0,"bounds":"flush"},
{"width":1,"height":3,"mark":"point"},
{"hconcat":[{"width":761,"height":1,"mark":"point"},
{"width":123,"height":124,"view":{"stroke":"#ccc","strokeWidth":1.5},"title":{"text":"P: 5.1e−06, Fold : 2.16","font":"Liberation Sans","fontSize":10,"fontWeight":"normal","color":"#f2323c","anchor":"start","frame":"group","offset":-4.5},"data":{"values":[{"g":"WT","lo":2.0,"q1":5.2,"m":6.42,"q3":7.8,"hi":11.49},{"g":"EGFR","lo":4.45,"q1":6.7,"m":7.82,"q3":8.55,"hi":11.25}]},"encoding":{"x":{"field":"g","type":"nominal","sort":null,"title":null,"scale":{"paddingInner":0,"paddingOuter":0.1}},"color":{"field":"g","type":"nominal","scale":{"domain":["WT","EGFR"],"range":["#0000f0","#e00000"]},"legend":null},"y":{"field":"lo","type":"quantitative","scale":{"domain":[0.7,12],"nice":false,"zero":false},"axis":{"values":[3,6,9,12],"title":null}}},"layer":[{"mark":"rule","encoding":{"y2":{"field":"hi"}}},{"mark":"tick"},{"mark":"tick","encoding":{"y":{"field":"hi","type":"quantitative"}}},{"mark":{"type":"bar","strokeWidth":2,"size":42},"encoding":{"color":{"value":"#fff"},"y":{"field":"q1","type":"quantitative"},"y2":{"field":"q3"},"stroke":{"field":"g","type":"nominal","scale":{"domain":["WT","EGFR"],"range":["#0000f0","#e00000"]},"legend":null}}},{"mark":{"type":"tick","size":42,"thickness":3.5},"encoding":{"y":{"field":"m","type":"quantitative"}}}]}],"spacing":0,"bounds":"flush"},
{"width":1,"height":1,"mark":"point"},
{"hconcat":[{"width":65,"height":1,"mark":"point"},
{"width":132,"height":126,"view":{"stroke":"#ccc","strokeWidth":1.5},"title":{"text":"P: 0.035, Fold : 1.7","font":"Liberation Sans","fontSize":10,"fontWeight":"normal","color":"#f2323c","anchor":"start","frame":"group","offset":1.5},"data":{"values":[{"g":"WT","lo":1.35,"q1":2.65,"m":3.36,"q3":4.15,"hi":6.09},{"g":"EGFR","lo":2.69,"q1":3.15,"m":4.2,"q3":5.1,"hi":6.62}]},"encoding":{"x":{"field":"g","type":"nominal","sort":null,"title":null,"scale":{"paddingInner":0,"paddingOuter":0.1}},"color":{"field":"g","type":"nominal","scale":{"domain":["WT","EGFR"],"range":["#0000f0","#e00000"]},"legend":null},"y":{"field":"lo","type":"quantitative","scale":{"domain":[1.11,6.845],"nice":false,"zero":false},"axis":{"values":[2,3,4,5,6],"title":"Expression","titleX":-26,"titleY":60}}},"layer":[{"mark":"rule","encoding":{"y2":{"field":"hi"}}},{"mark":"tick"},{"mark":"tick","encoding":{"y":{"field":"hi","type":"quantitative"}}},{"mark":{"type":"bar","strokeWidth":2,"size":44},"encoding":{"color":{"value":"#fff"},"y":{"field":"q1","type":"quantitative"},"y2":{"field":"q3"},"stroke":{"field":"g","type":"nominal","scale":{"domain":["WT","EGFR"],"range":["#0000f0","#e00000"]},"legend":null}}},{"mark":{"type":"tick","size":44,"thickness":3.5},"encoding":{"y":{"field":"m","type":"quantitative"}}}]}],"spacing":0,"bounds":"flush"},
{"width":1,"height":1,"mark":"point"},
{"hconcat":[{"width":215,"height":1,"mark":"point"},
{"width":133,"height":128,"view":{"stroke":"#ccc","strokeWidth":1.5},"title":{"text":"P: 0.211, Fold : 1.33","font":"Liberation Sans","fontSize":10,"fontWeight":"normal","color":"#333","anchor":"start","frame":"group","offset":0.5},"data":{"values":[{"g":"WT","lo":2.85,"q1":5.1,"m":6.0,"q3":6.9,"hi":9.15},{"g":"EGFR","lo":4.5,"q1":6.0,"m":6.5,"q3":7.25,"hi":8.8}]},"encoding":{"x":{"field":"g","type":"nominal","sort":null,"title":null,"scale":{"paddingInner":0,"paddingOuter":0.1}},"color":{"field":"g","type":"nominal","scale":{"domain":["WT","EGFR"],"range":["#0000f0","#e00000"]},"legend":null},"y":{"field":"lo","type":"quantitative","scale":{"domain":[1.71,10.4],"nice":false,"zero":false},"axis":{"values":[2,4,6,8,10],"title":null}}},"layer":[{"mark":"rule","encoding":{"y2":{"field":"hi"}}},{"mark":"tick"},{"mark":"tick","encoding":{"y":{"field":"hi","type":"quantitative"}}},{"mark":{"type":"bar","strokeWidth":2,"size":45},"encoding":{"color":{"value":"#fff"},"y":{"field":"q1","type":"quantitative"},"y2":{"field":"q3"},"stroke":{"field":"g","type":"nominal","scale":{"domain":["WT","EGFR"],"range":["#0000f0","#e00000"]},"legend":null}}},{"mark":{"type":"tick","size":45,"thickness":3.5},"encoding":{"y":{"field":"m","type":"quantitative"}}}]},
{"width":26,"height":1,"mark":"point"},
{"width":122,"height":126,"view":{"stroke":"#ccc","strokeWidth":1.5},"title":{"text":"P: 0.018, Fold : 1.44","font":"Liberation Sans","fontSize":10,"fontWeight":"normal","color":"#f2323c","anchor":"start","frame":"group","offset":1.5},"data":{"values":[{"g":"WT","lo":5.13,"q1":8.42,"m":9.77,"q3":11.1,"hi":14.04},{"g":"EGFR","lo":6.86,"q1":9.3,"m":10.55,"q3":11.2,"hi":13.84}]},"encoding":{"x":{"field":"g","type":"nominal","sort":null,"title":null,"scale":{"paddingInner":0,"paddingOuter":0.1}},"color":{"field":"g","type":"nominal","scale":{"domain":["WT","EGFR"],"range":["#0000f0","#e00000"]},"legend":null},"y":{"field":"lo","type":"quantitative","scale":{"domain":[4.66,14.47],"nice":false,"zero":false},"axis":{"values":[5,7.5,10,12.5],"format":".1f","title":null}}},"layer":[{"mark":"rule","encoding":{"y2":{"field":"hi"}}},{"mark":"tick"},{"mark":"tick","encoding":{"y":{"field":"hi","type":"quantitative"}}},{"mark":{"type":"bar","strokeWidth":2,"size":42},"encoding":{"color":{"value":"#fff"},"y":{"field":"q1","type":"quantitative"},"y2":{"field":"q3"},"stroke":{"field":"g","type":"nominal","scale":{"domain":["WT","EGFR"],"range":["#0000f0","#e00000"]},"legend":null}}},{"mark":{"type":"tick","size":42,"thickness":3.5},"encoding":{"y":{"field":"m","type":"quantitative"}}}]}],"spacing":0,"bounds":"flush"},
{"width":1,"height":179,"mark":"point"},
{"hconcat":[{"width":46,"height":1,"mark":"point","title":{"text":"B","anchor":"start","dx":2,"offset":-21.6,"fontSize":30}},{"width":452,"height":6,"mark":"point","view":{"fill":"#000"},"title":{"text":"CD38","dx":10,"offset":-0.2,"fontSize":16.5}},{"width":84,"height":1,"mark":"point","title":{"text":"D","anchor":"start","dx":43,"offset":-24.6,"fontSize":30}},{"width":304,"height":6,"mark":"point","view":{"fill":"#000"},"title":{"text":"ADORA2A","dx":13,"offset":-0.2,"fontSize":16.5}}],"spacing":0,"bounds":"flush"},
{"width":1,"height":9,"mark":"point"},
{"hconcat":[{"width":67,"height":1,"mark":"point"},{"width":129,"height":1,"mark":"point","title":{"text":"PROSPECT","dx":8,"offset":-20}},{"width":28,"height":1,"mark":"point"},{"width":125,"height":1,"mark":"point","title":{"text":"ICON","dx":-9.5,"offset":-20}},{"width":23,"height":1,"mark":"point"},{"width":125,"height":1,"mark":"point","title":{"text":"TCGA","dx":-9,"offset":-20}},{"width":118,"height":1,"mark":"point"},{"width":123,"height":1,"mark":"point","title":{"text":"PROSPECT","dx":0,"offset":-20}},{"width":23,"height":1,"mark":"point"},{"width":123,"height":1,"mark":"point","title":{"text":"TCGA","dx":-7,"offset":-20}}],"spacing":0,"bounds":"flush"},
{"width":1,"height":31,"mark":"point"},
{"hconcat":[{"width":67,"height":1,"mark":"point"},
{"width":129,"height":128,"view":{"stroke":"#ccc","strokeWidth":1.5},"title":{"text":"P: 0.089, Fold : −1.58","font":"Liberation Sans","fontSize":10,"fontWeight":"normal","color":"#333","anchor":"start","frame":"group","offset":1.5},"data":{"values":[{"g":"WT","lo":2.24,"q1":5.23,"m":6.45,"q3":7.54,"hi":9.3},{"g":"EGFR","lo":2.46,"q1":4.67,"m":5.13,"q3":6.29,"hi":8.16}]},"encoding":{"x":{"field":"g","type":"nominal","sort":null,"title":null,"scale":{"paddingInner":0,"paddingOuter":0.1}},"color":{"field":"g","type":"nominal","scale":{"domain":["WT","EGFR"],"range":["#0000f0","#e00000"]},"legend":null},"y":{"field":"lo","type":"quantitative","scale":{"domain":[1.88,9.62],"nice":false,"zero":false},"axis":{"values":[2,4,6,8],"title":"Expression","titleX":-28,"titleY":66}}},"layer":[{"mark":"rule","encoding":{"y2":{"field":"hi"}}},{"mark":"tick"},{"mark":"tick","encoding":{"y":{"field":"hi","type":"quantitative"}}},{"mark":{"type":"bar","strokeWidth":2,"size":44},"encoding":{"color":{"value":"#fff"},"y":{"field":"q1","type":"quantitative"},"y2":{"field":"q3"},"stroke":{"field":"g","type":"nominal","scale":{"domain":["WT","EGFR"],"range":["#0000f0","#e00000"]},"legend":null}}},{"mark":{"type":"tick","size":44,"thickness":3.5},"encoding":{"y":{"field":"m","type":"quantitative"}}}]},
{"width":28,"height":1,"mark":"point"},
{"width":125,"height":127,"view":{"stroke":"#ccc","strokeWidth":1.5},"title":{"text":"P: 0.317, Fold : −1.33","font":"Liberation Sans","fontSize":10,"fontWeight":"normal","color":"#333","anchor":"start","frame":"group","offset":1.5},"data":{"values":[{"g":"WT","lo":1.43,"q1":3.75,"m":4.58,"q3":5.4,"hi":7.19},{"g":"EGFR","lo":2.25,"q1":3.3,"m":3.99,"q3":4.87,"hi":6.32}]},"encoding":{"x":{"field":"g","type":"nominal","sort":null,"title":null,"scale":{"paddingInner":0,"paddingOuter":0.1}},"color":{"field":"g","type":"nominal","scale":{"domain":["WT","EGFR"],"range":["#0000f0","#e00000"]},"legend":null},"y":{"field":"lo","type":"quantitative","scale":{"domain":[1.05,9.53],"nice":false,"zero":false},"axis":{"values":[2.5,5,7.5],"format":".1f","title":null}}},"layer":[{"mark":"rule","encoding":{"y2":{"field":"hi"}}},{"mark":"tick"},{"mark":"tick","encoding":{"y":{"field":"hi","type":"quantitative"}}},{"mark":{"type":"bar","strokeWidth":2,"size":42},"encoding":{"color":{"value":"#fff"},"y":{"field":"q1","type":"quantitative"},"y2":{"field":"q3"},"stroke":{"field":"g","type":"nominal","scale":{"domain":["WT","EGFR"],"range":["#0000f0","#e00000"]},"legend":null}}},{"mark":{"type":"tick","size":42,"thickness":3.5},"encoding":{"y":{"field":"m","type":"quantitative"}}}]},
{"width":23,"height":1,"mark":"point"},
{"width":125,"height":127,"view":{"stroke":"#ccc","strokeWidth":1.5},"title":{"text":"P: 0.003, Fold : −1.5","font":"Liberation Sans","fontSize":10,"fontWeight":"normal","color":"#f2323c","anchor":"start","frame":"group","offset":-4.5},"data":{"values":[{"g":"WT","lo":3.58,"q1":6.37,"m":7.5,"q3":8.33,"hi":10.9},{"g":"EGFR","lo":4.44,"q1":5.97,"m":7.07,"q3":7.7,"hi":9.03}]},"encoding":{"x":{"field":"g","type":"nominal","sort":null,"title":null,"scale":{"paddingInner":0,"paddingOuter":0.1}},"color":{"field":"g","type":"nominal","scale":{"domain":["WT","EGFR"],"range":["#0000f0","#e00000"]},"legend":null},"y":{"field":"lo","type":"quantitative","scale":{"domain":[0.4,12.08],"nice":false,"zero":false},"axis":{"values":[3,6,9,12],"title":null}}},"layer":[{"mark":"rule","encoding":{"y2":{"field":"hi"}}},{"mark":"tick"},{"mark":"tick","encoding":{"y":{"field":"hi","type":"quantitative"}}},{"mark":{"type":"bar","strokeWidth":2,"size":42},"encoding":{"color":{"value":"#fff"},"y":{"field":"q1","type":"quantitative"},"y2":{"field":"q3"},"stroke":{"field":"g","type":"nominal","scale":{"domain":["WT","EGFR"],"range":["#0000f0","#e00000"]},"legend":null}}},{"mark":{"type":"tick","size":42,"thickness":3.5},"encoding":{"y":{"field":"m","type":"quantitative"}}}]},
{"width":118,"height":1,"mark":"point"},
{"width":123,"height":126,"view":{"stroke":"#ccc","strokeWidth":1.5},"title":{"text":"P: 0.71, Fold : −1.05","font":"Liberation Sans","fontSize":10,"fontWeight":"normal","color":"#333","anchor":"start","frame":"group","offset":1.5},"data":{"values":[{"g":"WT","lo":4.16,"q1":5.81,"m":6.37,"q3":6.99,"hi":8.51},{"g":"EGFR","lo":5.33,"q1":5.83,"m":6.42,"q3":6.7,"hi":7.16}]},"encoding":{"x":{"field":"g","type":"nominal","sort":null,"title":null,"scale":{"paddingInner":0,"paddingOuter":0.1}},"color":{"field":"g","type":"nominal","scale":{"domain":["WT","EGFR"],"range":["#0000f0","#e00000"]},"legend":null},"y":{"field":"lo","type":"quantitative","scale":{"domain":[3.91,9.8],"nice":false,"zero":false},"axis":{"values":[4,6,8],"title":"Expression","titleX":-31,"titleY":51}}},"layer":[{"mark":"rule","encoding":{"y2":{"field":"hi"}}},{"mark":"tick"},{"mark":"tick","encoding":{"y":{"field":"hi","type":"quantitative"}}},{"mark":{"type":"bar","strokeWidth":2,"size":43},"encoding":{"color":{"value":"#fff"},"y":{"field":"q1","type":"quantitative"},"y2":{"field":"q3"},"stroke":{"field":"g","type":"nominal","scale":{"domain":["WT","EGFR"],"range":["#0000f0","#e00000"]},"legend":null}}},{"mark":{"type":"tick","size":43,"thickness":3.5},"encoding":{"y":{"field":"m","type":"quantitative"}}}]}],"spacing":0,"bounds":"flush"},
{"width":1,"height":2,"mark":"point"},
{"hconcat":[{"width":761,"height":1,"mark":"point"},
{"width":123,"height":125,"view":{"stroke":"#ccc","strokeWidth":1.5},"title":{"text":"P: 0.913, Fold : −1.01","font":"Liberation Sans","fontSize":10,"fontWeight":"normal","color":"#333","anchor":"start","frame":"group","offset":-1.5},"data":{"values":[{"g":"WT","lo":5.37,"q1":6.89,"m":7.5,"q3":7.98,"hi":9.39},{"g":"EGFR","lo":5.67,"q1":6.93,"m":7.5,"q3":7.82,"hi":9.05}]},"encoding":{"x":{"field":"g","type":"nominal","sort":null,"title":null,"scale":{"paddingInner":0,"paddingOuter":0.1}},"color":{"field":"g","type":"nominal","scale":{"domain":["WT","EGFR"],"range":["#0000f0","#e00000"]},"legend":null},"y":{"field":"lo","type":"quantitative","scale":{"domain":[4.79,10.1],"nice":false,"zero":false},"axis":{"values":[5,6,7,8,9,10],"title":null}}},"layer":[{"mark":"rule","encoding":{"y2":{"field":"hi"}}},{"mark":"tick"},{"mark":"tick","encoding":{"y":{"field":"hi","type":"quantitative"}}},{"mark":{"type":"bar","strokeWidth":2,"size":42},"encoding":{"color":{"value":"#fff"},"y":{"field":"q1","type":"quantitative"},"y2":{"field":"q3"},"stroke":{"field":"g","type":"nominal","scale":{"domain":["WT","EGFR"],"range":["#0000f0","#e00000"]},"legend":null}}},{"mark":{"type":"tick","size":42,"thickness":3.5},"encoding":{"y":{"field":"m","type":"quantitative"}}}]}],"spacing":0,"bounds":"flush"},
{"width":1,"height":194,"mark":"point"},
{"hconcat":[{"width":645,"height":1,"mark":"point","title":{"text":"E","anchor":"start","dx":4,"offset":-13.6,"fontSize":30}},
{"width":258,"height":246,"title":{"text":"NT5E expression level","anchor":"start","frame":"group","dx":46,"offset":-8,"fontSize":20,"fontWeight":"normal","color":"#222"},"data":{"name":"cells"},"mark":{"type":"circle","size":8,"opacity":1},"encoding":{"x":{"field":"x","type":"quantitative","scale":{"domain":[17.27,98.34],"nice":false,"zero":false},"axis":{"values":[35.6,64.2,92.8],"labels":false,"title":null,"domain":true,"domainColor":"#999","domainWidth":1.5,"ticks":true,"tickColor":"#999","tickSize":2}},"y":{"field":"y","type":"quantitative","scale":{"domain":[1.8,76.3],"nice":false,"zero":false},"axis":{"values":[64.7,51.2,37.7,24.2,10.7],"labels":false,"title":null,"domain":true,"domainColor":"#999","domainWidth":1.5}},"color":{"field":"v","type":"quantitative","scale":{"domain":[0,3],"range":["#bebebe","#ff0000"]},"legend":{"title":null,"orient":"none","legendX":880,"legendY":134,"gradientLength":69,"gradientThickness":15,"values":[0,1,2,3],"labelFont":"Liberation Sans","labelFontSize":11.5,"labelColor":"#222"}}}}],"spacing":0,"bounds":"flush"},
{"width":1,"height":5,"mark":"point"},
{"hconcat":[{"width":352,"height":1,"mark":"point"},
{"width":271,"height":240,"data":{"name":"cells"},"mark":{"type":"circle","size":26,"opacity":1},"encoding":{"x":{"field":"x","type":"quantitative","scale":{"domain":[19.63,99.5],"nice":false,"zero":false},"axis":{"values":[21.3,35.7,50,64.2,78.6,92.8],"labels":false,"title":null,"domain":true,"domainColor":"#999","domainWidth":1.5,"ticks":true,"tickColor":"#999","tickSize":2}},"y":{"field":"y","type":"quantitative","scale":{"domain":[2.96,75.3],"nice":false,"zero":false},"axis":{"values":[64.7,51.2,37.7,24.2,10.7],"labels":false,"title":null,"domain":true,"domainColor":"#999","domainWidth":1.5}},"color":{"field":"e","type":"nominal","scale":{"domain":["N","T"],"range":["#2b8cbe","#e31a1c"]},"legend":{"title":null,"orient":"none","legendX":396,"legendY":-16,"symbolType":"circle","symbolSize":120,"symbolStrokeWidth":0,"labelFont":"Lato","labelFontSize":16.5,"labelColor":"#222","labelLimit":220,"rowPadding":5,"labelExpr":"datum.label==='N'?'EPCAM+ normal cells':'EPCAM+ tumor cells'"}}}}],"spacing":0,"bounds":"flush"},
{"width":1,"height":54,"mark":"point"},
{"hconcat":[{"width":66,"height":1,"mark":"point"},
{"width":267,"height":187,"layer":[{"data":{"name":"cells"},"mark":{"type":"circle","size":10,"opacity":1},"encoding":{"x":{"field":"x","type":"quantitative","scale":{"domain":[20,99.9],"nice":false,"zero":false},"axis":{"values":[21.3,35.7,50,64.2,78.6,92.8],"labels":false,"domain":true,"domainColor":"#999","domainWidth":1.5,"ticks":true,"tickColor":"#999","tickSize":2,"title":"UMAP1","titleX":144.5,"titleY":27.7}},"y":{"field":"y","type":"quantitative","scale":{"domain":[3,59.2],"nice":false,"zero":false},"axis":{"values":[51.2,37.7,24.2,10.7],"labels":false,"domain":true,"domainColor":"#999","domainWidth":1.5,"title":"UMAP2","titleX":-15,"titleY":65}},"color":{"field":"p","type":"nominal","scale":{"domain":["P2n","P2t","P1t","P3n","P3t","P4t"],"range":["#fdbf6f","#ff7f00","#1f78b4","#b2df8a","#33a02c","#e31a1c"]},"legend":{"title":null,"orient":"none","legendX":37,"legendY":-75,"columns":2,"symbolType":"circle","symbolSize":120,"symbolStrokeWidth":0,"labelFont":"Lato","labelFontSize":16.5,"labelColor":"#222","labelLimit":220,"rowPadding":5,"columnPadding":16,"labelExpr":"{'P2n':'Pt 2 – normal','P2t':'Pt 2 – tumor','P1t':'Pt 1 – tumor','P3n':'Pt 3 – normal','P3t':'Pt 3 – tumor','P4t':'Pt 4 – tumor'}[datum.label]"}}}},
{"data":{"values":[{"ax":13.2,"ay":-3.5,"bx":13.2,"by":26},{"ax":13.2,"ay":-3.5,"bx":49.5,"by":-3.5}]},"mark":{"type":"rule","color":"#000","strokeWidth":1.5},"encoding":{"x":{"field":"ax","type":"quantitative"},"y":{"field":"ay","type":"quantitative"},"x2":{"field":"bx"},"y2":{"field":"by"}}},
{"data":{"values":[{"ax":13.2,"ay":26.5,"s":"triangle-up"},{"ax":49.5,"ay":-3.5,"s":"triangle-right"}]},"mark":{"type":"point","filled":true,"color":"#000","size":170,"opacity":1},"encoding":{"x":{"field":"ax","type":"quantitative"},"y":{"field":"ay","type":"quantitative"},"shape":{"field":"s","type":"nominal","scale":null}}}]}],"spacing":0,"bounds":"flush"},
{"width":1,"height":259,"mark":"point"},
{"hconcat":[{"width":518,"height":1,"mark":"point","title":{"text":"F","anchor":"start","dx":6,"offset":-2.6,"fontSize":30}},{"width":451,"height":5,"mark":"point","view":{"fill":"#000"},"title":{"text":"RPPA (ICON)","dx":39,"offset":-0.2,"fontSize":16.5}}],"spacing":0,"bounds":"flush"},
{"width":1,"height":12,"mark":"point"},
{"hconcat":[{"width":86,"height":1,"mark":"point"},
{"width":202,"height":212,"data":{"values":[{"patient":"Pt 3 – normal","pct":2.5},{"patient":"Pt 2 – normal","pct":3.5},{"patient":"Pt 1 – tumor","pct":6.3},{"patient":"Pt 3 – tumor","pct":29},{"patient":"Pt 2 – tumor","pct":30.6},{"patient":"Pt 4 – tumor","pct":50}]},"mark":{"type":"bar","size":29.5},"encoding":{"x":{"field":"patient","type":"nominal","sort":null,"title":null,"scale":{"paddingInner":0.1,"paddingOuter":0.14},"axis":{"labels":false,"domain":true,"domainColor":"#666","domainWidth":1.5,"ticks":true,"tickColor":"#666","tickSize":3}},"y":{"field":"pct","type":"quantitative","scale":{"domain":[-2.32,52.4],"nice":false,"zero":false},"axis":{"values":[0,10,20,30,40,50],"domain":true,"domainColor":"#666","domainWidth":1.5,"tickColor":"#666","tickSize":3,"labelFont":"Lato","labelFontWeight":"bold","labelFontSize":16,"labelColor":"#111","labelPadding":5,"title":["NT5E+ cell","proportion"],"titleX":-59,"titleY":103,"titleLineHeight":23}},"color":{"field":"patient","type":"nominal","scale":{"domain":["Pt 3 – normal","Pt 2 – normal","Pt 1 – tumor","Pt 3 – tumor","Pt 2 – tumor","Pt 4 – tumor"],"range":["#b2df8a","#fdbf6f","#1f78b4","#33a02c","#ff7f00","#e31a1c"]},"legend":{"title":null,"orient":"none","legendX":302,"legendY":-12,"symbolType":"square","symbolSize":480,"symbolStrokeWidth":0,"symbolOpacity":1,"labelFont":"Lato","labelFontSize":16.5,"labelColor":"#222","labelLimit":200,"rowPadding":0,"labelOffset":8}}}},
{"width":173,"height":1,"mark":"point","title":{"text":"G","anchor":"start","dx":173,"offset":-15.6,"fontSize":30}}],"spacing":0,"bounds":"flush"},
{"width":1,"height":3,"mark":"point"},
{"hconcat":[{"width":532,"height":1,"mark":"point"},{"width":126,"height":1,"mark":"point","title":{"text":"p-EGFR","dx":4,"offset":-14}},{"width":23,"height":1,"mark":"point"},{"width":131,"height":1,"mark":"point","title":{"text":"CD73","offset":-14}},{"width":24,"height":1,"mark":"point"},{"width":121,"height":1,"mark":"point","title":{"text":"CD38","dx":10,"offset":-14}}],"spacing":0,"bounds":"flush"},
{"width":1,"height":29,"mark":"point"},
{"hconcat":[{"width":532,"height":1,"mark":"point"},
{"width":126,"height":126,"view":{"stroke":"#ccc","strokeWidth":1.5},"title":{"text":"P: 7.45e−04, Fold : 1.14","font":"Liberation Sans","fontSize":10,"fontWeight":"normal","color":"#f2323c","anchor":"start","frame":"group","offset":0.5},"data":{"values":[{"g":"WT","lo":-1.565,"q1":-1.46,"m":-1.4175,"q3":-1.375,"hi":-1.3175},{"g":"EGFR","lo":-1.5625,"q1":-1.32,"m":-1.2525,"q3":-1.1175,"hi":-0.925}]},"encoding":{"x":{"field":"g","type":"nominal","sort":null,"title":null,"scale":{"paddingInner":0,"paddingOuter":0.1}},"color":{"field":"g","type":"nominal","scale":{"domain":["WT","EGFR"],"range":["#0000f0","#e00000"]},"legend":null},"y":{"field":"lo","type":"quantitative","scale":{"domain":[-1.705,-0.76],"nice":false,"zero":false},"axis":{"values":[-1.5,-1.25,-1],"format":".2f","title":"Protein levels","titleX":-36,"titleY":63.5}}},"layer":[{"mark":"rule","encoding":{"y2":{"field":"hi"}}},{"mark":"tick"},{"mark":"tick","encoding":{"y":{"field":"hi","type":"quantitative"}}},{"mark":{"type":"bar","strokeWidth":2,"size":44},"encoding":{"color":{"value":"#fff"},"y":{"field":"q1","type":"quantitative"},"y2":{"field":"q3"},"stroke":{"field":"g","type":"nominal","scale":{"domain":["WT","EGFR"],"range":["#0000f0","#e00000"]},"legend":null}}},{"mark":{"type":"tick","size":44,"thickness":3.5},"encoding":{"y":{"field":"m","type":"quantitative"}}}]},
{"width":23,"height":1,"mark":"point"},
{"width":131,"height":126,"view":{"stroke":"#ccc","strokeWidth":1.5},"title":{"text":"P: 0.313, Fold : 1.15","font":"Liberation Sans","fontSize":10,"fontWeight":"normal","color":"#333","anchor":"start","frame":"group","offset":1.5},"data":{"values":[{"g":"WT","lo":-0.67,"q1":-0.19,"m":0.075,"q3":0.28,"hi":0.74},{"g":"EGFR","lo":-0.95,"q1":-0.07,"m":0.29,"q3":0.78,"hi":1.66}]},"encoding":{"x":{"field":"g","type":"nominal","sort":null,"title":null,"scale":{"paddingInner":0,"paddingOuter":0.1}},"color":{"field":"g","type":"nominal","scale":{"domain":["WT","EGFR"],"range":["#0000f0","#e00000"]},"legend":null},"y":{"field":"lo","type":"quantitative","scale":{"domain":[-1.07,1.77],"nice":false,"zero":false},"axis":{"values":[-1,0,1],"title":null}}},"layer":[{"mark":"rule","encoding":{"y2":{"field":"hi"}}},{"mark":"tick"},{"mark":"tick","encoding":{"y":{"field":"hi","type":"quantitative"}}},{"mark":{"type":"bar","strokeWidth":2,"size":46},"encoding":{"color":{"value":"#fff"},"y":{"field":"q1","type":"quantitative"},"y2":{"field":"q3"},"stroke":{"field":"g","type":"nominal","scale":{"domain":["WT","EGFR"],"range":["#0000f0","#e00000"]},"legend":null}}},{"mark":{"type":"tick","size":46,"thickness":3.5},"encoding":{"y":{"field":"m","type":"quantitative"}}}]},
{"width":24,"height":1,"mark":"point"},
{"width":121,"height":126,"view":{"stroke":"#ccc","strokeWidth":1.5},"title":{"text":"P: 0.002, Fold : −1.35","font":"Liberation Sans","fontSize":10,"fontWeight":"normal","color":"#f2323c","anchor":"start","frame":"group","offset":1.5},"data":{"values":[{"g":"WT","lo":-1.17,"q1":-0.85,"m":-0.61,"q3":-0.22,"hi":0.29},{"g":"EGFR","lo":-1.11,"q1":-1.025,"m":-0.93,"q3":-0.87,"hi":-0.85}]},"encoding":{"x":{"field":"g","type":"nominal","sort":null,"title":null,"scale":{"paddingInner":0,"paddingOuter":0.1}},"color":{"field":"g","type":"nominal","scale":{"domain":["WT","EGFR"],"range":["#0000f0","#e00000"]},"legend":null},"y":{"field":"lo","type":"quantitative","scale":{"domain":[-1.38,0.98],"nice":false,"zero":false},"axis":{"values":[-1,-0.5,0,0.5],"format":".1f","title":null}}},"layer":[{"mark":"rule","encoding":{"y2":{"field":"hi"}}},{"mark":"tick"},{"mark":"tick","encoding":{"y":{"field":"hi","type":"quantitative"}}},{"mark":{"type":"bar","strokeWidth":2,"size":42},"encoding":{"color":{"value":"#fff"},"y":{"field":"q1","type":"quantitative"},"y2":{"field":"q3"},"stroke":{"field":"g","type":"nominal","scale":{"domain":["WT","EGFR"],"range":["#0000f0","#e00000"]},"legend":null}}},{"mark":{"type":"tick","size":42,"thickness":3.5},"encoding":{"y":{"field":"m","type":"quantitative"}}}]}],"spacing":0,"bounds":"flush"},
{"width":1,"height":189,"mark":"point"},
{"hconcat":[{"width":94,"height":1,"mark":"point"},{"width":52,"height":4,"mark":"point","view":{"fill":"#000"},"title":{"text":"Normal","offset":-25.3,"fontSize":17,"fontWeight":"normal","color":"#222"}},{"width":19,"height":1,"mark":"point"},{"width":112,"height":4,"mark":"point","view":{"fill":"#000"},"title":{"text":"Tumors","offset":-25.3,"fontSize":17,"fontWeight":"normal","color":"#222"}}],"spacing":0,"bounds":"flush"}
]}
